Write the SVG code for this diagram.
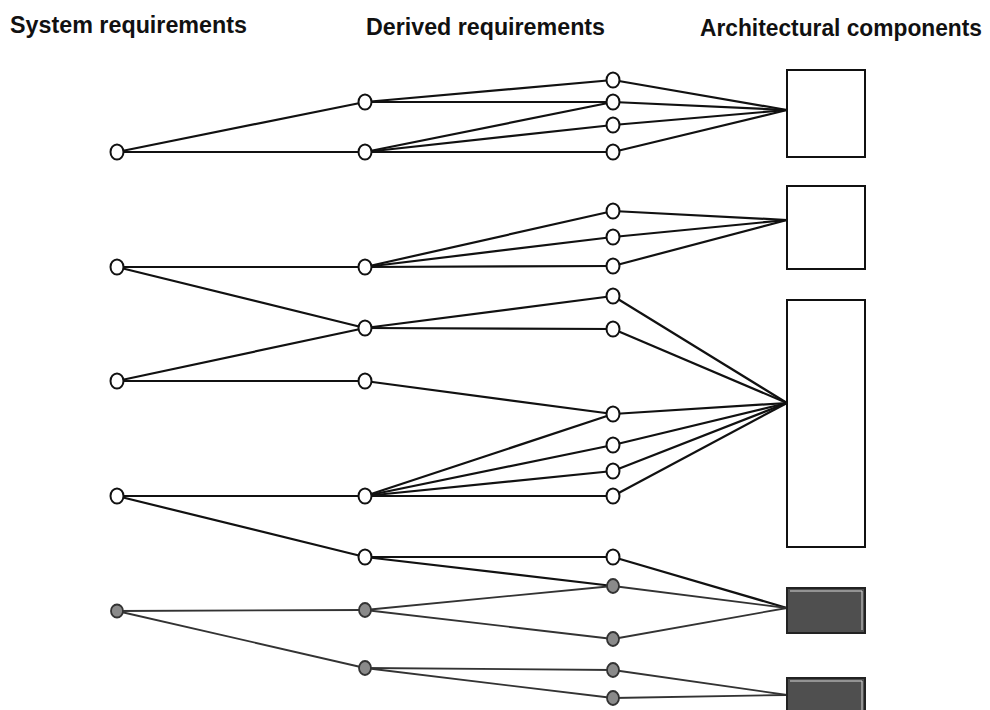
<svg xmlns="http://www.w3.org/2000/svg" width="990" height="710" viewBox="0 0 990 710">
<style>
.hdr{font-family:"Liberation Sans",Arial,sans-serif;font-weight:bold;font-size:23px;fill:#111}
.e{stroke:#111;stroke-width:2.2;fill:none}
.eg{stroke:#333;stroke-width:1.8;fill:none}
.n{fill:#fff;stroke:#111;stroke-width:2}
.ng{fill:#8a8a8a;stroke:#333;stroke-width:1.8}
.box{fill:#fff;stroke:#111;stroke-width:2}
.boxg{fill:#4f4f4f;stroke:#222;stroke-width:2}
.boxgi{fill:none;stroke:#d8d8d8;stroke-width:1}
</style>
<rect width="990" height="710" fill="#fff"/>
<g id="headers">
<text class="hdr" x="10" y="33" textLength="237" lengthAdjust="spacingAndGlyphs">System requirements</text>
<text class="hdr" x="366" y="35" textLength="239" lengthAdjust="spacingAndGlyphs">Derived requirements</text>
<text class="hdr" x="700" y="36" textLength="282" lengthAdjust="spacingAndGlyphs">Architectural components</text>
</g>
<g id="connectors">
<line class="e" x1="117" y1="152" x2="365" y2="102"/>
<line class="e" x1="117" y1="152" x2="365" y2="152"/>
<line class="e" x1="117" y1="267" x2="365" y2="267"/>
<line class="e" x1="117" y1="267" x2="365" y2="328"/>
<line class="e" x1="117" y1="381" x2="365" y2="328"/>
<line class="e" x1="117" y1="381" x2="365" y2="381"/>
<line class="e" x1="117" y1="496" x2="365" y2="496"/>
<line class="e" x1="117" y1="496" x2="365" y2="557"/>
<line class="eg" x1="117" y1="611" x2="365" y2="610"/>
<line class="eg" x1="117" y1="611" x2="365" y2="668"/>
<line class="e" x1="365" y1="102" x2="613" y2="80"/>
<line class="e" x1="365" y1="102" x2="613" y2="102"/>
<line class="e" x1="365" y1="152" x2="613" y2="102"/>
<line class="e" x1="365" y1="152" x2="613" y2="125"/>
<line class="e" x1="365" y1="152" x2="613" y2="152"/>
<line class="e" x1="365" y1="267" x2="613" y2="211"/>
<line class="e" x1="365" y1="267" x2="613" y2="237"/>
<line class="e" x1="365" y1="267" x2="613" y2="266"/>
<line class="e" x1="365" y1="328" x2="613" y2="296"/>
<line class="e" x1="365" y1="328" x2="613" y2="329"/>
<line class="e" x1="365" y1="381" x2="613" y2="414"/>
<line class="e" x1="365" y1="496" x2="613" y2="414"/>
<line class="e" x1="365" y1="496" x2="613" y2="445"/>
<line class="e" x1="365" y1="496" x2="613" y2="471"/>
<line class="e" x1="365" y1="496" x2="613" y2="496"/>
<line class="e" x1="365" y1="557" x2="613" y2="557"/>
<line class="e" x1="365" y1="557" x2="613" y2="586"/>
<line class="eg" x1="365" y1="610" x2="613" y2="586"/>
<line class="eg" x1="365" y1="610" x2="613" y2="639"/>
<line class="eg" x1="365" y1="668" x2="613" y2="670"/>
<line class="eg" x1="365" y1="668" x2="613" y2="698"/>
<line class="e" x1="613" y1="80" x2="787" y2="110"/>
<line class="e" x1="613" y1="102" x2="787" y2="110"/>
<line class="e" x1="613" y1="125" x2="787" y2="110"/>
<line class="e" x1="613" y1="152" x2="787" y2="110"/>
<line class="e" x1="613" y1="211" x2="787" y2="220"/>
<line class="e" x1="613" y1="237" x2="787" y2="220"/>
<line class="e" x1="613" y1="266" x2="787" y2="220"/>
<line class="e" x1="613" y1="296" x2="787" y2="403"/>
<line class="e" x1="613" y1="329" x2="787" y2="403"/>
<line class="e" x1="613" y1="414" x2="787" y2="403"/>
<line class="e" x1="613" y1="445" x2="787" y2="403"/>
<line class="e" x1="613" y1="471" x2="787" y2="403"/>
<line class="e" x1="613" y1="496" x2="787" y2="403"/>
<line class="e" x1="613" y1="557" x2="787" y2="608"/>
<line class="eg" x1="613" y1="586" x2="787" y2="608"/>
<line class="eg" x1="613" y1="639" x2="787" y2="608"/>
<line class="eg" x1="613" y1="670" x2="787" y2="695"/>
<line class="eg" x1="613" y1="698" x2="787" y2="695"/>
</g>
<g id="S1"><ellipse class="n" cx="117" cy="152" rx="6.5" ry="7.5"/></g>
<g id="S2"><ellipse class="n" cx="117" cy="267" rx="6.5" ry="7.5"/></g>
<g id="S3"><ellipse class="n" cx="117" cy="381" rx="6.5" ry="7.5"/></g>
<g id="S4"><ellipse class="n" cx="117" cy="496" rx="6.5" ry="7.5"/></g>
<g id="S5"><ellipse class="ng" cx="117" cy="611" rx="6" ry="6.5"/></g>
<g id="D1"><ellipse class="n" cx="365" cy="102" rx="6.5" ry="7.5"/></g>
<g id="D2"><ellipse class="n" cx="365" cy="152" rx="6.5" ry="7.5"/></g>
<g id="D3"><ellipse class="n" cx="365" cy="267" rx="6.5" ry="7.5"/></g>
<g id="D4"><ellipse class="n" cx="365" cy="328" rx="6.5" ry="7.5"/></g>
<g id="D5"><ellipse class="n" cx="365" cy="381" rx="6.5" ry="7.5"/></g>
<g id="D6"><ellipse class="n" cx="365" cy="496" rx="6.5" ry="7.5"/></g>
<g id="D7"><ellipse class="n" cx="365" cy="557" rx="6.5" ry="7.5"/></g>
<g id="D8"><ellipse class="ng" cx="365" cy="610" rx="6" ry="7"/></g>
<g id="D9"><ellipse class="ng" cx="365" cy="668" rx="6" ry="7"/></g>
<g id="C1"><ellipse class="n" cx="613" cy="80" rx="6.5" ry="7.5"/></g>
<g id="C2"><ellipse class="n" cx="613" cy="102" rx="6.5" ry="7.5"/></g>
<g id="C3"><ellipse class="n" cx="613" cy="125" rx="6.5" ry="7.5"/></g>
<g id="C4"><ellipse class="n" cx="613" cy="152" rx="6.5" ry="7.5"/></g>
<g id="C5"><ellipse class="n" cx="613" cy="211" rx="6.5" ry="7.5"/></g>
<g id="C6"><ellipse class="n" cx="613" cy="237" rx="6.5" ry="7.5"/></g>
<g id="C7"><ellipse class="n" cx="613" cy="266" rx="6.5" ry="7.5"/></g>
<g id="C8"><ellipse class="n" cx="613" cy="296" rx="6.5" ry="7.5"/></g>
<g id="C9"><ellipse class="n" cx="613" cy="329" rx="6.5" ry="7.5"/></g>
<g id="C10"><ellipse class="n" cx="613" cy="414" rx="6.5" ry="7.5"/></g>
<g id="C11"><ellipse class="n" cx="613" cy="445" rx="6.5" ry="7.5"/></g>
<g id="C12"><ellipse class="n" cx="613" cy="471" rx="6.5" ry="7.5"/></g>
<g id="C13"><ellipse class="n" cx="613" cy="496" rx="6.5" ry="7.5"/></g>
<g id="C14"><ellipse class="n" cx="613" cy="557" rx="6.5" ry="7.5"/></g>
<g id="C15"><ellipse class="ng" cx="613" cy="586" rx="6" ry="7"/></g>
<g id="C16"><ellipse class="ng" cx="613" cy="639" rx="6" ry="7"/></g>
<g id="C17"><ellipse class="ng" cx="613" cy="670" rx="6" ry="7"/></g>
<g id="C18"><ellipse class="ng" cx="613" cy="698" rx="6" ry="7"/></g>
<g id="A1"><rect class="box" x="787" y="70" width="78" height="87"/></g>
<g id="A2"><rect class="box" x="787" y="186" width="78" height="83"/></g>
<g id="A3"><rect class="box" x="787" y="300" width="78" height="247"/></g>
<g id="A4"><rect class="boxg" x="787" y="588" width="78" height="45"/><path class="boxgi" d="M790 591H862V630"/></g>
<g id="A5"><rect class="boxg" x="787" y="678" width="78" height="40"/><path class="boxgi" d="M790 681H862V710"/></g>
</svg>
